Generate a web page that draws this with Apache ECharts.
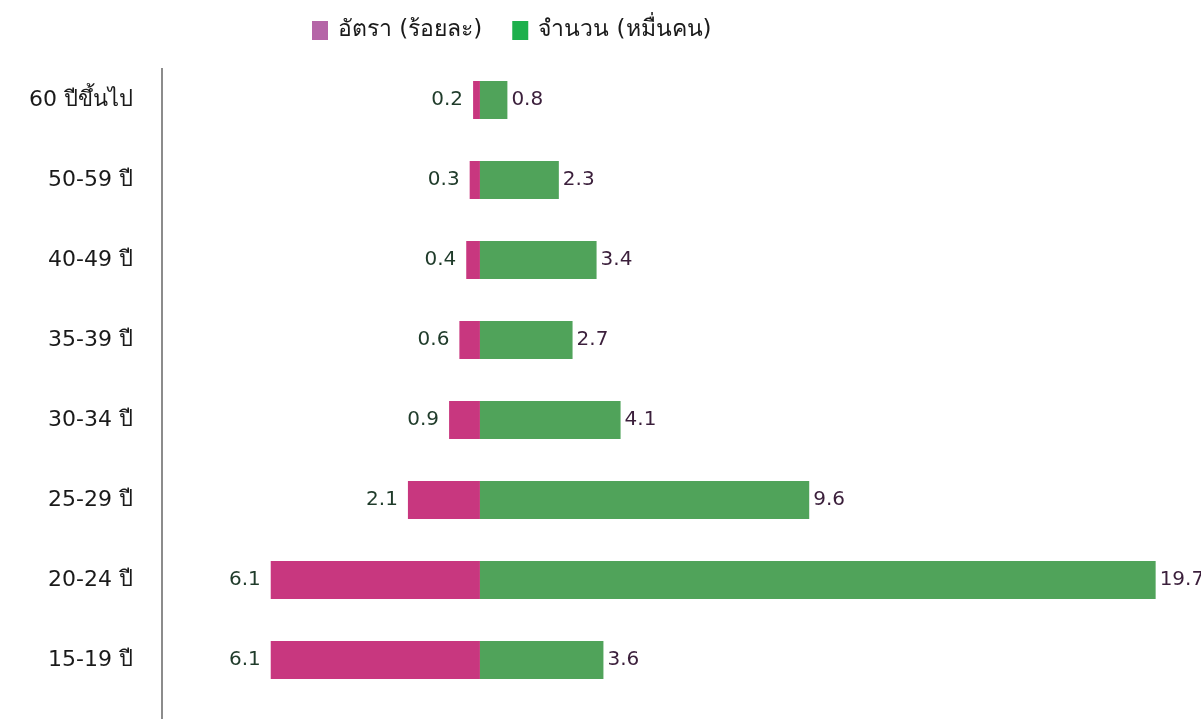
<!DOCTYPE html>
<html>
<head>
<meta charset="utf-8">
<script src="https://cdn.jsdelivr.net/npm/echarts@6/dist/echarts.min.js"></script>
<style>
  html, body { margin: 0; padding: 0; background: #fff; }
  #chart { width: 1201px; height: 719px; }
</style>
</head>
<body>
<div id="chart"></div>
<script>
// กลุ่มอายุ (ล่างขึ้นบน)
const ageGroups = ['15-19 ปี', '20-24 ปี', '25-29 ปี', '30-34 ปี', '35-39 ปี', '40-49 ปี', '50-59 ปี', '60 ปีขึ้นไป']
const rateValues = [6.1, 6.1, 2.1, 0.9, 0.6, 0.4, 0.3, 0.2]      // อัตรา (ร้อยละ)
const countValues = [3.6, 19.7, 9.6, 4.1, 2.7, 3.4, 2.3, 0.8]    // จำนวน (หมื่นคน)
const seriesNames = ['อัตรา (ร้อยละ)', 'จำนวน (หมื่นคน)']

const font = 'Tahoma, "DejaVu Sans", "Noto Sans", sans-serif'
const chart = echarts.init(document.getElementById('chart'))

chart.setOption({
  backgroundColor: '#fff',
  textStyle: { fontFamily: font },
  legend: {
    top: 14,
    left: 307,
    itemWidth: 16,
    itemHeight: 19,
    itemGap: 30,
    textStyle: { fontSize: 23, color: '#1a1a1a', fontFamily: font, padding: [0, 0, 0, 5] },
    data: [
      { name: seriesNames[0], icon: 'rect', itemStyle: { color: '#b565a7' } },
      { name: seriesNames[1], icon: 'rect', itemStyle: { color: '#1db04c' } }
    ]
  },
  grid: { left: 162, right: 21, top: 60, bottom: 19, containLabel: false },
  xAxis: {
    type: 'value',
    min: -9.27,
    max: 20.41,
    show: false
  },
  yAxis: {
    type: 'category',
    data: ageGroups,
    axisLine: { show: false },
    axisTick: { show: false },
    axisLabel: { fontSize: 22, color: '#1a1a1a', margin: 29, fontFamily: font }
  },
  // เส้นแกนตั้งด้านซ้าย
  graphic: [{
    type: 'line',
    shape: { x1: 162, y1: 68, x2: 162, y2: 719 },
    style: { stroke: '#8c8c8c', lineWidth: 2 }
  }],
  series: [
    {
      name: seriesNames[0],
      type: 'bar',
      stack: 'age',
      barWidth: 38,
      data: rateValues.map(v => -v),
      itemStyle: { color: '#c8377f' },
      label: {
        show: true,
        position: 'left',
        distance: 10,
        formatter: p => Math.abs(p.value).toFixed(1),
        fontSize: 20,
        color: '#1f3b2a',
        fontFamily: font
      }
    },
    {
      name: seriesNames[1],
      type: 'bar',
      stack: 'age',
      barWidth: 38,
      data: countValues,
      itemStyle: { color: '#50a35a' },
      label: {
        show: true,
        position: 'right',
        distance: 4,
        formatter: p => p.value.toFixed(1),
        fontSize: 20,
        color: '#3b1f3b',
        fontFamily: font
      }
    }
  ]
})
</script>
</body>
</html>
